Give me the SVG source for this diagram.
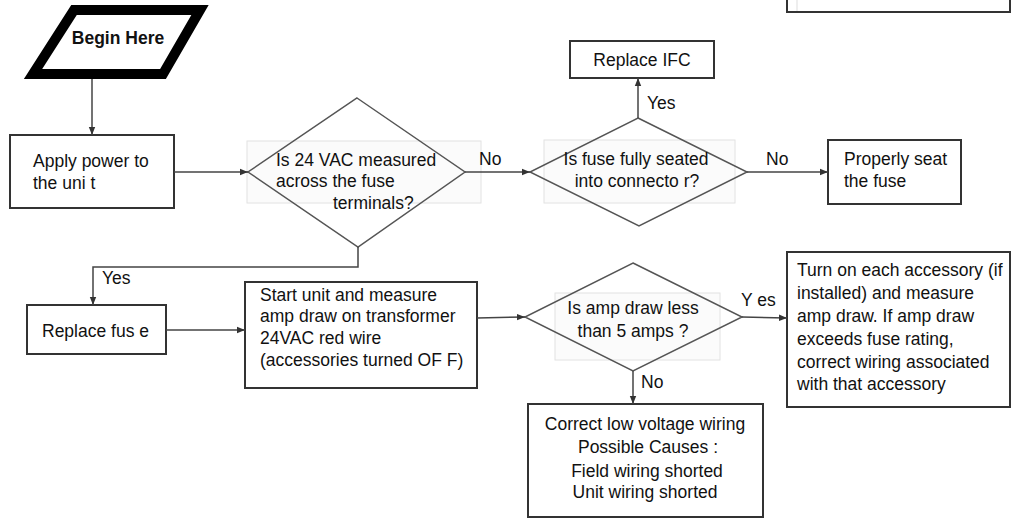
<svg xmlns="http://www.w3.org/2000/svg" width="1013" height="519" viewBox="0 0 1013 519">
<defs>
<style>
text{font-family:"Liberation Sans",Arial,sans-serif;font-size:17.5px;fill:#111}
.box{fill:#fff;stroke:#333;stroke-width:2}
.dia{fill:none;stroke:#555;stroke-width:1.5}
.faint{fill:#fbfbfb;stroke:#e2e2e2;stroke-width:1}
.c{fill:none;stroke:#444;stroke-width:1.5}
.m{text-anchor:middle}
</style>
<marker id="ah" viewBox="0 0 10 10" refX="10" refY="5" markerWidth="8" markerHeight="8" markerUnits="userSpaceOnUse" orient="auto"><path d="M0,1 L10,5 L0,9 z" fill="#333"/></marker>
</defs>
<rect width="1013" height="519" fill="#fff"/>

<g id="top-right-box"><rect class="box" x="787" y="-6" width="223" height="18"/><line x1="797" y1="0" x2="797" y2="11" stroke="#ddd"/></g>

<g id="begin"><polygon points="74,10 200,10 163,74 33,74" fill="#fff" stroke="#000" stroke-width="10"/><text x="118" y="44" class="m" style="font-weight:bold">Begin Here</text></g>

<g id="apply"><rect class="box" x="10" y="135" width="164" height="73"/><text x="33" y="167">Apply power to</text><text x="33" y="189">the uni t</text></g>

<g id="q1"><rect class="faint" x="247" y="141" width="234" height="62"/><polygon class="dia" points="357,98 465,172 358,247 248,172"/><text x="276" y="166">Is 24 VAC measured</text><text x="276" y="187">across the fuse</text><text x="333" y="209">terminals?</text></g>

<g id="q2"><rect class="faint" x="544" y="140" width="191" height="63"/><polygon class="dia" points="638,118 747,172 639,226 530,172"/><text x="636" y="165" class="m">Is fuse fully seated</text><text x="637" y="187" class="m">into connecto r?</text></g>

<g id="replace-ifc"><rect class="box" x="570" y="41" width="144" height="37"/><text x="642" y="66" class="m">Replace IFC</text></g>

<g id="seat"><rect class="box" x="828" y="140" width="133" height="64"/><text x="844" y="165">Properly seat</text><text x="844" y="187">the fuse</text></g>

<g id="replace-fuse"><rect class="box" x="27" y="305" width="139" height="49"/><text x="42" y="337">Replace fus e</text></g>

<g id="start"><rect class="box" x="245" y="282" width="232" height="106"/><text x="260" y="301">Start unit and measure</text><text x="260" y="322">amp draw on transformer</text><text x="260" y="344">24VAC red wire</text><text x="260" y="366">(accessories turned OF F)</text></g>

<g id="q3"><rect class="faint" x="555" y="293" width="165" height="67"/><polygon class="dia" points="633,263 742,317 633,371 525,317"/><text x="633" y="314" class="m">Is amp draw less</text><text x="633" y="337" class="m">than 5 amps ?</text></g>

<g id="turn-on"><rect class="box" x="787" y="252" width="223" height="155"/><text x="797" y="276">Turn on each accessory (if</text><text x="797" y="299">installed) and measure</text><text x="797" y="322">amp draw. If amp draw</text><text x="797" y="345">exceeds fuse rating,</text><text x="797" y="368">correct wiring associated</text><text x="797" y="390">with that accessory</text></g>

<g id="correct"><rect class="box" x="528" y="404" width="235" height="113"/><text x="645" y="430" class="m">Correct low voltage wiring</text><text x="648" y="453" class="m">Possible Causes :</text><text x="647" y="477" class="m">Field wiring shorted</text><text x="645" y="498" class="m">Unit wiring shorted</text></g>

<g id="connectors">
<line class="c" x1="92" y1="79" x2="92" y2="135" marker-end="url(#ah)"/>
<line class="c" x1="174" y1="172" x2="248" y2="172" marker-end="url(#ah)"/>
<line class="c" x1="465" y1="172" x2="530" y2="172" marker-end="url(#ah)"/>
<line class="c" x1="638" y1="118" x2="638" y2="78" marker-end="url(#ah)"/>
<line class="c" x1="747" y1="172" x2="828" y2="172" marker-end="url(#ah)"/>
<polyline class="c" points="358,247 358,267 93,267 93,305" marker-end="url(#ah)"/>
<line class="c" x1="166" y1="330" x2="245" y2="330" marker-end="url(#ah)"/>
<line class="c" x1="477" y1="318" x2="525" y2="317" marker-end="url(#ah)"/>
<line class="c" x1="742" y1="317" x2="787" y2="318" marker-end="url(#ah)"/>
<line class="c" x1="633" y1="371" x2="633" y2="404" marker-end="url(#ah)"/>
<text x="479" y="165">No</text>
<text x="647" y="109">Yes</text>
<text x="766" y="165">No</text>
<text x="102" y="284">Yes</text>
<text x="741" y="306">Y es</text>
<text x="641" y="388">No</text>
</g>
</svg>
